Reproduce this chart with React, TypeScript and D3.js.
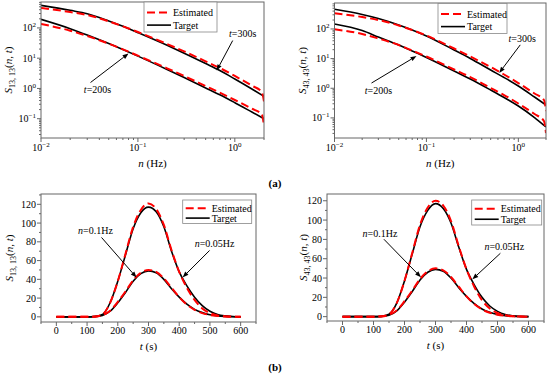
import React from 'react';
import * as d3 from 'd3';

// frequency grid of the spectra (Hz)
const freqs = [0.01, 0.02, 0.03, 0.05, 0.07, 0.1, 0.2, 0.3, 0.5, 0.7, 1, 1.5, 2];
const freqsEst = [0.01, 0.02, 0.03, 0.05, 0.07, 0.1, 0.2, 0.3, 0.5, 0.7, 1, 1.5, 1.9, 2];

// S13,13(n, t)
const s13Target300 = [559, 382, 296, 170, 113, 69.8, 26.6, 14.6, 6.64, 3.9, 2.05, 0.958, 0.548];
const s13Target200 = [192, 94.6, 58.4, 30.5, 19.3, 11.7, 4.23, 2.3, 1.04, 0.617, 0.338, 0.166, 0.1];
const s13Est300 = [456, 336, 268, 165, 113, 73.4, 29.4, 16.8, 7.87, 4.74, 2.58, 1.23, 0.763, 0.365];
const s13Est200 = [135, 81.2, 54.1, 30.2, 19.6, 12.1, 4.62, 2.58, 1.2, 0.724, 0.415, 0.214, 0.139, 0.057];

// S43,43(n, t)
const s43Target300 = [460, 307, 225, 136, 92.1, 57.8, 19.5, 10.1, 4.12, 2.3, 1.19, 0.507, 0.272];
const s43Target200 = [147, 88.6, 53.5, 28.7, 18, 10.9, 3.81, 2.05, 0.872, 0.487, 0.252, 0.103, 0.0493];
const s43Est300 = [337, 253, 200, 131, 92.1, 60.1, 21.9, 11.8, 5.2, 2.91, 1.5, 0.665, 0.401, 0.171];
const s43Est200 = [97.3, 67.6, 47.6, 28.7, 18.7, 11.8, 4.29, 2.39, 1.02, 0.592, 0.306, 0.135, 0.0786, 0.0309];

// time grid (s)
const times = [0, 25, 50, 75, 100, 125, 150, 175, 200, 225, 250, 275, 300, 325, 350, 375, 400, 425, 450, 475, 500, 525, 550, 575, 600];

const b13Target005 = [0, 0, 0, 0, 0, 0.3, 2.5, 15, 38, 66, 94, 111, 117, 112, 96, 70, 48, 33, 21, 12, 6, 2.5, 1, 0.3, 0];
const b13Est005 = [0, 0, 0, 0, 0, 0.3, 2.5, 15, 38, 67, 96, 114, 121, 115, 98, 71, 48, 31, 18, 9, 4, 1.5, 0.5, 0.2, 0];
const b13Target01 = [0, 0, 0, 0, 0, 0.2, 1.5, 6, 15, 26, 38, 46, 49, 47, 40, 30, 21, 13.5, 8, 4.5, 2.2, 1, 0.4, 0.1, 0];
const b13Est01 = [0, 0, 0, 0, 0, 0.2, 1.8, 6.5, 16, 27, 39, 47, 50, 48, 41, 31, 21, 13, 7.5, 4, 2, 1, 0.4, 0.1, 0];

const b43Target005 = [0, 0, 0, 0, 0, 0.3, 2.5, 14, 37, 65, 93, 110, 117, 112, 97, 72, 49, 33, 20, 11, 5.5, 2.2, 0.8, 0.2, 0];
const b43Est005 = [0, 0, 0, 0, 0, 0.3, 2.5, 14, 37, 66, 95, 113, 120, 115, 99, 73, 49, 31, 17, 8.5, 3.8, 1.4, 0.5, 0.1, 0];
const b43Target01 = [0, 0, 0, 0, 0, 0.2, 1.5, 6, 15, 26, 38, 46, 49, 47, 40, 30, 21, 13.5, 8, 4.5, 2.2, 1, 0.4, 0.1, 0];
const b43Est01 = [0, 0, 0, 0, 0, 0.2, 1.8, 6.5, 16, 27, 39, 47, 50, 48, 41, 31, 21, 13, 7.5, 4, 2, 1, 0.4, 0.1, 0];

const logXTicks = [0.01, 0.1, 1];
const logYTicks = [0.1, 1, 10, 100];
const timeTicks = [0, 100, 200, 300, 400, 500, 600];
const valueTicks = [0, 20, 40, 60, 80, 100, 120];

const red = '#ff0000';
const black = '#000000';
const frameColor = '#666666';
const serif = { fontFamily: "'Liberation Serif', 'Times New Roman', Times, serif" };

type Box = { l: number; t: number; r: number; b: number };
type Note = { text: [string, string]; tip: [number, number]; tail: [number, number]; label: [number, number] };

function Arrow({ x1, y1, x2, y2 }: { x1: number; y1: number; x2: number; y2: number }) {
  const a = Math.atan2(y2 - y1, x2 - x1);
  const len = 6, half = 2.3;
  const bx = x2 - len * Math.cos(a), by = y2 - len * Math.sin(a);
  const px = -Math.sin(a) * half, py = Math.cos(a) * half;
  return (
    <g>
      <line x1={x1} y1={y1} x2={bx} y2={by} stroke={black} strokeWidth={1} />
      <path d={`M${x2},${y2}L${bx + px},${by + py}L${bx - px},${by - py}Z`} fill={black} />
    </g>
  );
}

function Legend({ x, y, w, h, lineW }: { x: number; y: number; w: number; h: number; lineW: number }) {
  const r1 = y + h * 0.35, r2 = y + h * 0.77;
  return (
    <g style={serif} fontSize={10}>
      <rect x={x} y={y} width={w} height={h} fill="#fff" stroke="#888" strokeWidth={0.8} />
      <line x1={x + 3} x2={x + 3 + lineW} y1={r1} y2={r1} stroke={red} strokeWidth={2} strokeDasharray="8,4" />
      <line x1={x + 3} x2={x + 3 + lineW} y1={r2} y2={r2} stroke={black} strokeWidth={1.6} />
      <text x={x + 5 + lineW} y={r1 + 3.5}>Estimated</text>
      <text x={x + 5 + lineW} y={r2 + 3.5}>Target</text>
    </g>
  );
}

function YTitle({ x, y, sub }: { x: number; y: number; sub: string }) {
  return (
    <text transform={`translate(${x},${y}) rotate(-90)`} textAnchor="middle" style={serif} fontSize={11}>
      <tspan fontStyle="italic">S</tspan>
      <tspan fontSize={8} dy={2.5}>{sub}</tspan>
      <tspan dy={-2.5}>(</tspan>
      <tspan fontStyle="italic">n</tspan>
      <tspan>, </tspan>
      <tspan fontStyle="italic">t</tspan>
      <tspan>)</tspan>
    </text>
  );
}

function NoteMark({ note, sx, sy }: { note: Note; sx: (v: number) => number; sy: (v: number) => number }) {
  const tx = sx(note.tip[0]), ty = sy(note.tip[1]);
  return (
    <g>
      <Arrow x1={tx + note.tail[0]} y1={ty + note.tail[1]} x2={tx} y2={ty} />
      <text x={tx + note.label[0]} y={ty + note.label[1] + 3.5} textAnchor="middle" style={serif} fontSize={10}>
        <tspan fontStyle="italic">{note.text[0]}</tspan>
        <tspan>{note.text[1]}</tspan>
      </text>
    </g>
  );
}

function sup(e: number) {
  return e < 0 ? '\u2212' + Math.abs(e) : String(e);
}

function LogPanel(props: {
  id: string; box: Box; yDomain: [number, number]; sub: string; titleX: number;
  t300: number[]; t200: number[]; e300: number[]; e200: number[];
  legend: { x: number; y: number; w: number; h: number }; notes: Note[];
}) {
  const { id, box, yDomain, sub, titleX, t300, t200, e300, e200, legend, notes } = props;
  const x = d3.scaleLog().domain([0.01, 2]).range([box.l, box.r]);
  const y = d3.scaleLog().domain(yDomain).range([box.b, box.t]);
  const line = d3.line<[number, number]>().x(d => x(d[0])).y(d => y(d[1])).curve(d3.curveMonotoneX);
  const minorX: number[] = [];
  [0.01, 0.1, 1].forEach(d => { for (let k = 2; k <= 9; k++) if (d * k <= 2.0001) minorX.push(d * k); });
  const minorY: number[] = [];
  [0.01, 0.1, 1, 10, 100].forEach(d => { for (let k = 2; k <= 9; k++) { const v = d * k; if (v > yDomain[0] && v < yDomain[1]) minorY.push(v); } });
  return (
    <g>
      <defs>
        <clipPath id={id}><rect x={box.l} y={box.t} width={box.r - box.l} height={box.b - box.t} /></clipPath>
      </defs>
      <g clipPath={`url(#${id})`} fill="none">
        <path d={line(d3.zip(freqs, t300) as [number, number][]) || ''} stroke={black} strokeWidth={1.6} />
        <path d={line(d3.zip(freqs, t200) as [number, number][]) || ''} stroke={black} strokeWidth={1.6} />
        <path d={line(d3.zip(freqsEst, e300) as [number, number][]) || ''} stroke={red} strokeWidth={2} strokeDasharray="8,4" />
        <path d={line(d3.zip(freqsEst, e200) as [number, number][]) || ''} stroke={red} strokeWidth={2} strokeDasharray="8,4" />
      </g>
      <rect x={box.l} y={box.t} width={box.r - box.l} height={box.b - box.t} fill="none" stroke={frameColor} strokeWidth={1} />
      {logXTicks.map(d => <line key={d} x1={x(d)} x2={x(d)} y1={box.b} y2={box.b + 4} stroke={frameColor} />)}
      {minorX.map(d => <line key={d} x1={x(d)} x2={x(d)} y1={box.b} y2={box.b + 2} stroke={frameColor} />)}
      {logYTicks.map(d => <line key={d} x1={box.l - 4} x2={box.l} y1={y(d)} y2={y(d)} stroke={frameColor} />)}
      {minorY.map(d => <line key={d} x1={box.l - 2} x2={box.l} y1={y(d)} y2={y(d)} stroke={frameColor} />)}
      <g style={serif} fontSize={10}>
        {logXTicks.map(d => (
          <text key={d} x={x(d)} y={box.b + 13} textAnchor="middle">
            10<tspan fontSize={7} dy={-4}>{sup(Math.round(Math.log10(d)))}</tspan>
          </text>
        ))}
        {logYTicks.map(d => (
          <text key={d} x={box.l - 5} y={y(d) + 3.5} textAnchor="end">
            10<tspan fontSize={7} dy={-4}>{sup(Math.round(Math.log10(d)))}</tspan>
          </text>
        ))}
      </g>
      <text x={(box.l + box.r) / 2} y={box.b + 29} textAnchor="middle" style={serif} fontSize={11}>
        <tspan fontStyle="italic">n</tspan> (Hz)
      </text>
      <YTitle x={titleX} y={(box.t + box.b) / 2} sub={sub} />
      <Legend {...legend} lineW={24} />
      {notes.map((n, i) => <NoteMark key={i} note={n} sx={x} sy={y} />)}
    </g>
  );
}

function TimePanel(props: {
  id: string; box: Box; yDomain: [number, number]; sub: string; titleX: number;
  t005: number[]; e005: number[]; t01: number[]; e01: number[];
  legend: { x: number; y: number; w: number; h: number }; notes: Note[];
}) {
  const { id, box, yDomain, sub, titleX, t005, e005, t01, e01, legend, notes } = props;
  const x = d3.scaleLinear().domain([-50, 650]).range([box.l, box.r]);
  const y = d3.scaleLinear().domain(yDomain).range([box.b, box.t]);
  const line = d3.line<[number, number]>().x(d => x(d[0])).y(d => y(d[1])).curve(d3.curveMonotoneX);
  const minorX = d3.range(-50, 651, 50).filter(d => d % 100 !== 0);
  const minorY = d3.range(10, 131, 20).filter(d => d < yDomain[1]);
  return (
    <g>
      <defs>
        <clipPath id={id}><rect x={box.l} y={box.t} width={box.r - box.l} height={box.b - box.t} /></clipPath>
      </defs>
      <g clipPath={`url(#${id})`} fill="none">
        <path d={line(d3.zip(times, t005) as [number, number][]) || ''} stroke={black} strokeWidth={1.6} />
        <path d={line(d3.zip(times, t01) as [number, number][]) || ''} stroke={black} strokeWidth={1.6} />
        <path d={line(d3.zip(times, e005) as [number, number][]) || ''} stroke={red} strokeWidth={2} strokeDasharray="8,4" />
        <path d={line(d3.zip(times, e01) as [number, number][]) || ''} stroke={red} strokeWidth={2} strokeDasharray="8,4" />
      </g>
      <rect x={box.l} y={box.t} width={box.r - box.l} height={box.b - box.t} fill="none" stroke={frameColor} strokeWidth={1} />
      {timeTicks.map(d => <line key={d} x1={x(d)} x2={x(d)} y1={box.b} y2={box.b + 4} stroke={frameColor} />)}
      {minorX.map(d => <line key={d} x1={x(d)} x2={x(d)} y1={box.b} y2={box.b + 2} stroke={frameColor} />)}
      {valueTicks.map(d => <line key={d} x1={box.l - 4} x2={box.l} y1={y(d)} y2={y(d)} stroke={frameColor} />)}
      {minorY.map(d => <line key={d} x1={box.l - 2} x2={box.l} y1={y(d)} y2={y(d)} stroke={frameColor} />)}
      <g style={serif} fontSize={10}>
        {timeTicks.map(d => <text key={d} x={x(d)} y={box.b + 12} textAnchor="middle">{d}</text>)}
        {valueTicks.map(d => <text key={d} x={box.l - 5} y={y(d) + 3.5} textAnchor="end">{d}</text>)}
      </g>
      <text x={(box.l + box.r) / 2} y={box.b + 28} textAnchor="middle" style={serif} fontSize={11}>
        <tspan fontStyle="italic">t</tspan> (s)
      </text>
      <YTitle x={titleX} y={(box.t + box.b) / 2} sub={sub} />
      <Legend {...legend} lineW={24} />
      {notes.map((n, i) => <NoteMark key={i} note={n} sx={x} sy={y} />)}
    </g>
  );
}

export default function App() {
  return (
    <svg width={550} height={377} style={{ position: 'absolute', left: 0, top: 0, background: '#fff' }}>
      <LogPanel
        id="ca1" box={{ l: 41, t: 2, r: 264, b: 138 }} yDomain={[0.023, 720]} sub="13, 13" titleX={12}
        t300={s13Target300} t200={s13Target200} e300={s13Est300} e200={s13Est200}
        legend={{ x: 144, y: 2, w: 73, h: 30 }}
        notes={[
          { text: ['t', '=300s'], tip: [0.65, 3.9], tail: [16, -30], label: [26, -37] },
          { text: ['t', '=200s'], tip: [0.08, 14.3], tail: [-38, 29], label: [-31, 36] },
        ]}
      />
      <LogPanel
        id="ca2" box={{ l: 334.5, t: 3, r: 546, b: 138 }} yDomain={[0.021, 750]} sub="43, 43" titleX={306}
        t300={s43Target300} t200={s43Target200} e300={s43Est300} e200={s43Est200}
        legend={{ x: 438, y: 3.5, w: 69, h: 30 }}
        notes={[
          { text: ['t', '=300s'], tip: [0.62, 3.3], tail: [21, -28], label: [23, -34] },
          { text: ['t', '=200s'], tip: [0.078, 12.2], tail: [-45, 27], label: [-38, 34] },
        ]}
      />
      <TimePanel
        id="cb1" box={{ l: 41, t: 194, r: 256, b: 322 }} yDomain={[-5.5, 131]} sub="13, 13" titleX={13}
        t005={b13Target005} e005={b13Est005} t01={b13Target01} e01={b13Est01}
        legend={{ x: 182.7, y: 200, w: 69, h: 23.5 }}
        notes={[
          { text: ['n', '=0.1Hz'], tip: [261, 42], tail: [-35, -40], label: [-41, -47] },
          { text: ['n', '=0.05Hz'], tip: [411, 42], tail: [27, -27], label: [32, -34] },
        ]}
      />
      <TimePanel
        id="cb2" box={{ l: 327, t: 194, r: 544, b: 321 }} yDomain={[-4.5, 127]} sub="43, 43" titleX={307}
        t005={b43Target005} e005={b43Est005} t01={b43Target01} e01={b43Est01}
        legend={{ x: 471.7, y: 200, w: 70, h: 25 }}
        notes={[
          { text: ['n', '=0.1Hz'], tip: [253, 40.8], tail: [-37, -38], label: [-41, -44] },
          { text: ['n', '=0.05Hz'], tip: [419, 38.7], tail: [28, -26], label: [32, -33] },
        ]}
      />
      <text x={275} y={187} textAnchor="middle" style={serif} fontSize={11} fontWeight="bold">(a)</text>
      <text x={275} y={371} textAnchor="middle" style={serif} fontSize={11} fontWeight="bold">(b)</text>
    </svg>
  );
}
